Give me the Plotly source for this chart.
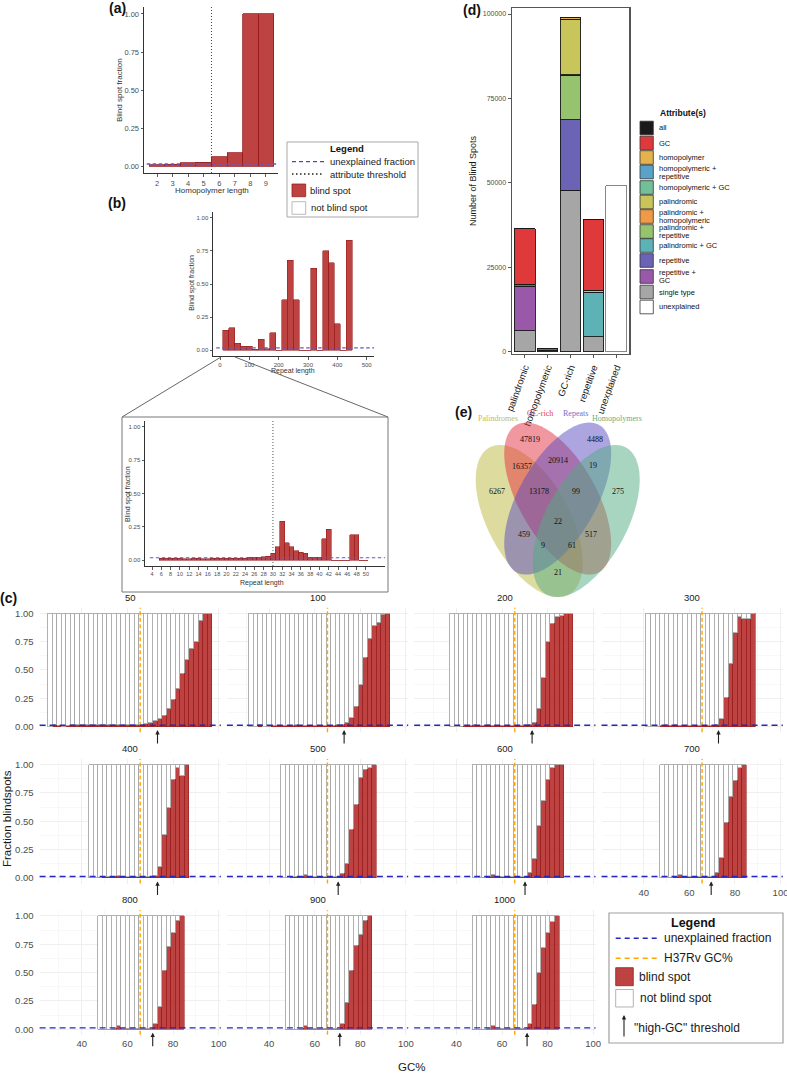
import math
import plotly.graph_objects as go

# ======================= DATA =======================
# (a) homopolymers
homopolymer_length = [2, 3, 4, 5, 6, 7, 8, 9]
homopolymer_fraction = [0.009, 0.010, 0.020, 0.025, 0.060, 0.088, 1.0, 1.0]
homopolymer_threshold = 5.5
unexplained_fraction = 0.013

# (b) repeats, full range (bins of 20)
repeat_length_bins = [20, 40, 60, 80, 100, 120, 140, 160, 180, 200, 220, 240, 260,
                      280, 300, 320, 340, 360, 380, 400, 420, 440]
repeat_fraction = [0.15, 0.17, 0.05, 0.03, 0.03, 0.005, 0.08, 0.01, 0.13, 0.0, 0.38, 0.68,
                   0.38, 0.0, 0.0, 0.62, 0.0, 0.75, 0.66, 0.20, 0.0, 0.83]
# (b) zoomed repeats
repeat_length_zoom = [6, 7, 8, 9, 10, 11, 12, 13, 14, 15, 16, 17, 18, 19, 20, 21, 22, 23, 24,
                      25, 26, 27, 28, 29, 30, 31, 32, 33, 34, 35, 36, 37, 38, 39, 40, 41, 42,
                      43, 44, 45, 46, 47, 48, 49, 50]
repeat_fraction_zoom = [0.015, 0.015, 0.012, 0.012, 0.012, 0.010, 0.010, 0.012, 0.012, 0.010,
                        0.010, 0.012, 0.015, 0.012, 0.012, 0.015, 0.015, 0.012, 0.015, 0.020,
                        0.020, 0.020, 0.025, 0.030, 0.050, 0.10, 0.29, 0.13, 0.10, 0.07, 0.06,
                        0.05, 0.02, 0.02, 0.02, 0.16, 0.23, 0.0, 0.0, 0.0, 0.0, 0.19, 0.19,
                        0.0, 0.0]
repeat_threshold = 30

# (c) GC% windows
windows = ["50", "100", "200", "300", "400", "500", "600", "700", "800", "900", "1000"]
gc_w50 = [26, 28, 30, 32, 34, 36, 38, 40, 42, 44, 46, 48, 50, 52, 54, 56, 58, 60, 62, 64,
          66, 68, 70, 72, 74, 76, 78, 80, 82, 84, 86, 88, 90, 92, 94, 96]
frac_w50 = [0.0, 0.02, 0.01, 0.005, 0.01, 0.015, 0.015, 0.015, 0.015, 0.015, 0.015, 0.015,
            0.015, 0.015, 0.015, 0.015, 0.015, 0.015, 0.015, 0.015, 0.02, 0.025, 0.035, 0.05,
            0.07, 0.10, 0.16, 0.24, 0.34, 0.47, 0.59, 0.69, 0.75, 0.94, 1.0, 1.0]
gc_w100 = [32, 34, 36, 38, 40, 42, 44, 46, 48, 50, 52, 54, 56, 58, 60, 62, 64, 66, 68, 70,
           72, 74, 76, 78, 80, 82, 84, 86, 88, 90, 92]
frac_w100 = [0.0, 0.0, 0.02, 0.0, 0.005, 0.01, 0.01, 0.01, 0.01, 0.01, 0.015, 0.01, 0.01,
             0.01, 0.01, 0.01, 0.01, 0.01, 0.01, 0.015, 0.02, 0.04, 0.08, 0.18, 0.37, 0.61,
             0.78, 0.89, 0.92, 0.99, 1.0]
gc_w200 = [38, 40, 42, 44, 46, 48, 50, 52, 54, 56, 58, 60, 62, 64, 66, 68, 70, 72, 74, 76,
           78, 80, 82, 84, 86, 88, 90]
frac_w200 = [0.0, 0.0, 0.005, 0.01, 0.01, 0.015, 0.01, 0.01, 0.015, 0.01, 0.01, 0.01, 0.01,
             0.01, 0.01, 0.01, 0.015, 0.02, 0.04, 0.16, 0.43, 0.75, 0.91, 0.97, 0.98, 1.0, 1.0]
gc_w300 = [42, 44, 46, 48, 50, 52, 54, 56, 58, 60, 62, 64, 66, 68, 70, 72, 74, 76, 78, 80,
           82, 84, 86, 88]
frac_w300 = [0.0, 0.0, 0.005, 0.01, 0.015, 0.01, 0.015, 0.01, 0.01, 0.01, 0.01, 0.01, 0.01,
             0.01, 0.01, 0.02, 0.07, 0.26, 0.56, 0.83, 0.97, 0.95, 0.95, 1.0]
gc_w400 = [44, 46, 48, 50, 52, 54, 56, 58, 60, 62, 64, 66, 68, 70, 72, 74, 76, 78, 80, 82,
           84, 86]
frac_w400 = [0.0, 0.0, 0.005, 0.01, 0.01, 0.015, 0.02, 0.01, 0.01, 0.01, 0.01, 0.01, 0.01,
             0.01, 0.02, 0.10, 0.38, 0.62, 0.87, 0.97, 0.90, 1.0]
gc_w500 = [46, 48, 50, 52, 54, 56, 58, 60, 62, 64, 66, 68, 70, 72, 74, 76, 78, 80, 82, 84, 86]
frac_w500 = [0.0, 0.0, 0.01, 0.01, 0.015, 0.03, 0.01, 0.01, 0.01, 0.01, 0.01, 0.01, 0.01,
             0.04, 0.13, 0.43, 0.65, 0.89, 0.96, 0.97, 1.0]
gc_w600 = [48, 50, 52, 54, 56, 58, 60, 62, 64, 66, 68, 70, 72, 74, 76, 78, 80, 82, 84, 86]
frac_w600 = [0.0, 0.0, 0.005, 0.01, 0.03, 0.01, 0.01, 0.01, 0.01, 0.01, 0.01, 0.01, 0.05,
             0.17, 0.46, 0.68, 0.87, 0.97, 1.0, 1.0]
gc_w700 = [48, 50, 52, 54, 56, 58, 60, 62, 64, 66, 68, 70, 72, 74, 76, 78, 80, 82, 84]
frac_w700 = [0.0, 0.0, 0.005, 0.01, 0.03, 0.01, 0.01, 0.01, 0.01, 0.01, 0.01, 0.01, 0.05,
             0.18, 0.49, 0.72, 0.86, 0.97, 1.0]
gc_w800 = [48, 50, 52, 54, 56, 58, 60, 62, 64, 66, 68, 70, 72, 74, 76, 78, 80, 82, 84]
frac_w800 = [0.0, 0.0, 0.0, 0.01, 0.03, 0.01, 0.01, 0.01, 0.01, 0.01, 0.01, 0.01, 0.05,
             0.20, 0.52, 0.73, 0.85, 0.96, 1.0]
gc_w900 = [48, 50, 52, 54, 56, 58, 60, 62, 64, 66, 68, 70, 72, 74, 76, 78, 80, 82, 84]
frac_w900 = [0.0, 0.0, 0.0, 0.01, 0.03, 0.01, 0.01, 0.01, 0.01, 0.01, 0.01, 0.01, 0.05,
             0.24, 0.52, 0.74, 0.84, 0.96, 1.0]
gc_w1000 = [48, 50, 52, 54, 56, 58, 60, 62, 64, 66, 68, 70, 72, 74, 76, 78, 80, 82, 84]
frac_w1000 = [0.0, 0.0, 0.0, 0.01, 0.03, 0.01, 0.01, 0.01, 0.01, 0.01, 0.01, 0.01, 0.05,
              0.22, 0.50, 0.72, 0.85, 0.95, 1.0]
h37rv_gc = 65.6
high_gc_threshold = [73.2, 72.9, 73.2, 72.8, 73.2, 70.3, 70.1, 69.6, 71.1, 71.0, 71.0]
gc_unexplained_fraction = 0.012

# (d) stacked counts per category
categories = ["palindromic", "homopolymeric", "GC-rich", "repetitive", "unexplained"]
attributes = ["all", "GC", "homopolymer", "homopolymeric + repetitive", "homopolymeric + GC",
              "palindromic", "palindromic + homopolymeric", "palindromic + repetitive",
              "palindromic + GC", "repetitive", "repetitive + GC", "single type", "unexplained"]
cnt_all = [22, 22, 22, 22, 0]
cnt_gc = [16357, 517, 0, 20914, 0]
cnt_homopolymer = [21, 0, 517, 19, 0]
cnt_homo_rep = [9, 0, 99, 0, 0]
cnt_homo_gc = [61, 0, 0, 99, 0]
cnt_palindromic = [0, 21, 16357, 459, 0]
cnt_pal_homo = [0, 0, 61, 9, 0]
cnt_pal_rep = [0, 9, 13178, 0, 0]
cnt_pal_gc = [0, 61, 0, 13178, 0]
cnt_repetitive = [459, 19, 20914, 0, 0]
cnt_rep_gc = [13178, 99, 0, 0, 0]
cnt_single = [6267, 275, 47819, 4488, 0]
cnt_unexplained = [0, 0, 0, 0, 49130]

# (e) Venn region counts
venn_sets = ["Palindromes", "GC-rich", "Repeats", "Homopolymers"]
venn_regions = ["P", "G", "R", "H", "PG", "GR", "RH", "PGR", "GRH", "PGRH",
                "PR", "PRH", "PGH", "GH", "PH"]
venn_counts = [6267, 47819, 4488, 275, 16357, 20914, 19, 13178, 99, 22, 459, 9, 61, 517, 21]

# ======================= STYLE / HELPERS =======================
W, H = 787, 1074
FONT = "Liberation Sans, Arial, Helvetica, sans-serif"
SERIF = "Liberation Serif, Times New Roman, serif"
RED_FILL = "rgba(178,34,34,0.85)"
RED_LINE = "rgba(150,24,24,0.95)"
GRAY_TXT = "#4D4D4D"


def fx(p):
    return p / W


def fy(p):
    return 1 - p / H


fig = go.Figure()
layout = {}
shapes = []
annos = []


def names(n):
    s = "" if n == 1 else str(n)
    return "xaxis" + s, "yaxis" + s, "x" + s, "y" + s


def set_axes(n, xpx, ypx, xr, yr, xkw, ykw):
    xa, ya, xs, ys = names(n)
    layout[xa] = dict(domain=[fx(xpx[0]), fx(xpx[1])], range=xr, anchor=ys, automargin=False, **xkw)
    layout[ya] = dict(domain=[fy(ypx[1]), fy(ypx[0])], range=yr, anchor=xs, automargin=False, **ykw)
    return xs, ys


def text(x, y, s, size, color="#1A1A1A", bold=False, xanchor="center", angle=0, family=FONT):
    if bold:
        s = "<b>" + s + "</b>"
    annos.append(dict(x=fx(x), y=fy(y), xref="paper", yref="paper", text=s, showarrow=False,
                      font=dict(size=size, color=color, family=family), xanchor=xanchor,
                      yanchor="middle", textangle=angle, borderpad=0, align="left"))


def line_px(x0, y0, x1, y1, color, width=1.0, dash="solid"):
    shapes.append(dict(type="line", xref="paper", yref="paper", x0=fx(x0), y0=fy(y0),
                       x1=fx(x1), y1=fy(y1), line=dict(color=color, width=width, dash=dash)))


def rect_px(x0, y0, x1, y1, fill="rgba(0,0,0,0)", line="#999", width=1.0):
    shapes.append(dict(type="rect", xref="paper", yref="paper", x0=fx(x0), y0=fy(y1),
                       x1=fx(x1), y1=fy(y0), fillcolor=fill, line=dict(color=line, width=width)))


def classic(vals, labels, size, color=GRAY_TXT):
    return dict(showline=True, linecolor="#333", linewidth=1, ticks="outside", ticklen=2.5,
                tickwidth=0.8, tickcolor="#333", tickvals=vals, ticktext=labels,
                tickfont=dict(size=size, color=color, family=FONT), showgrid=False,
                zeroline=False, fixedrange=True)


FR_VALS = [0, 0.25, 0.5, 0.75, 1.0]
FR_TXT = ["0.00", "0.25", "0.50", "0.75", "1.00"]
BLUE_AB = "#5B5BD0"
BLUE_C = "#2626C0"

# ======================= PANEL (a) =======================
xs, ys = set_axes(1, (144, 278), (7, 173), [1.16, 9.78], [-0.046, 1.046],
                  classic(homopolymer_length, [str(v) for v in homopolymer_length], 7.5),
                  classic(FR_VALS, FR_TXT, 7.5))
fig.add_trace(go.Bar(x=homopolymer_length, y=homopolymer_fraction, width=1,
                     marker=dict(color=RED_FILL, line=dict(color=RED_LINE, width=0.8)),
                     xaxis=xs, yaxis=ys))
shapes.append(dict(type="line", xref=xs, yref=ys + " domain", x0=homopolymer_threshold,
                   x1=homopolymer_threshold, y0=0, y1=1,
                   line=dict(color="#444", width=1, dash="1px,2px")))
shapes.append(dict(type="line", xref=xs + " domain", yref=ys, x0=0.02, x1=1, y0=unexplained_fraction,
                   y1=unexplained_fraction, line=dict(color=BLUE_AB, width=1.4, dash="3.5px,2.5px")))
text(120, 90, "Blind spot fraction", 8, color="#333", angle=-90)
text(212, 191, "Homopolymer length", 8, color="#333")
text(117, 8, "(a)", 14, color="#111", bold=True)

# legend (a)
rect_px(287, 142, 418, 217, line="#A8A8A8", width=1)
text(347, 148.5, "Legend", 9.5, color="#111", bold=True)
line_px(292, 161.7, 324, 161.7, "#4848C8", 1.2, "4px,3px")
text(329, 161.7, "unexplained fraction", 9.5, xanchor="left")
line_px(292, 174, 324, 174, "#222", 1.5, "1.5px,2.5px")
text(329, 174, "attribute threshold", 9.5, xanchor="left")
rect_px(292, 184, 305.7, 196.7, fill=RED_FILL, line=RED_LINE, width=0.8)
text(309.3, 190.7, "blind spot", 9.5, xanchor="left")
rect_px(292, 201.7, 305.7, 214.3, fill="white", line="#AAAAAA", width=0.8)
text(310, 207.3, "not blind spot", 9.5, xanchor="left")

# ======================= PANEL (b) main =======================
xs, ys = set_axes(2, (213, 374), (212, 356), [-24, 525], [-0.045, 1.045],
                  classic([0, 100, 200, 300, 400, 500], ["0", "100", "200", "300", "400", "500"], 6),
                  classic(FR_VALS, FR_TXT, 6))
fig.add_trace(go.Bar(x=repeat_length_bins, y=repeat_fraction, width=20,
                     marker=dict(color=RED_FILL, line=dict(color=RED_LINE, width=0.6)),
                     xaxis=xs, yaxis=ys))
shapes.append(dict(type="line", xref=xs + " domain", yref=ys, x0=0.02, x1=1, y0=unexplained_fraction + 0.004,
                   y1=unexplained_fraction + 0.004, line=dict(color=BLUE_AB, width=1.2, dash="3.5px,2.5px")))
text(191.7, 283, "Blind spot fraction", 7, color="#333", angle=-90)
text(293, 371, "Repeat length", 7, color="#333")
text(117, 203, "(b)", 14, color="#111", bold=True)

# zoom connector lines
line_px(221, 357, 122, 417, "#666", 1)
line_px(235, 357, 388, 417, "#666", 1)

# ======================= PANEL (b) inset =======================
rect_px(122, 417, 388, 592, line="#777", width=1)
xs, ys = set_axes(3, (145, 385), (421, 566), [2.49, 54.1], [-0.045, 1.045],
                  classic([4, 6, 8, 10, 12, 14, 16, 18, 20, 22, 24, 26, 28, 30, 32, 34, 36, 38, 40,
                           42, 44, 46, 48, 50],
                          ["4", "6", "8", "10", "12", "14", "16", "18", "20", "22", "24", "26", "28",
                           "30", "32", "34", "36", "38", "40", "42", "44", "46", "48", "50"], 5.5),
                  classic(FR_VALS, FR_TXT, 6))
fig.add_trace(go.Bar(x=repeat_length_zoom, y=repeat_fraction_zoom, width=1,
                     marker=dict(color=RED_FILL, line=dict(color=RED_LINE, width=0.6)),
                     xaxis=xs, yaxis=ys))
shapes.append(dict(type="line", xref=xs, yref=ys + " domain", x0=repeat_threshold, x1=repeat_threshold,
                   y0=0, y1=1, line=dict(color="#555", width=1, dash="1px,2px")))
shapes.append(dict(type="line", xref=xs + " domain", yref=ys, x0=0.02, x1=1, y0=unexplained_fraction + 0.004,
                   y1=unexplained_fraction + 0.004, line=dict(color=BLUE_AB, width=1.2, dash="3.5px,2.5px")))
text(128, 494, "Blind spot fraction", 7, color="#333", angle=-90)
text(262, 583, "Repeat length", 7, color="#333")

# ======================= PANEL (d) =======================
xs, ys = set_axes(4, (511.7, 629.3), (8.3, 354), [-0.57, 4.57], [-680, 101690],
                  dict(showline=True, mirror=True, linecolor="#555", linewidth=1.2, ticks="outside",
                       ticklen=3, tickcolor="#555", tickvals=[0, 1, 2, 3, 4], ticktext=categories,
                       tickangle=-70, tickfont=dict(size=9.5, color="#1A1A1A", family=FONT),
                       showgrid=False, zeroline=False),
                  dict(showline=True, mirror=True, linecolor="#555", linewidth=1.2, ticks="outside",
                       ticklen=3, tickcolor="#555", tickvals=[0, 25000, 50000, 75000, 100000],
                       ticktext=["0", "25000", "50000", "75000", "100000"],
                       tickfont=dict(size=7, color=GRAY_TXT, family=FONT), showgrid=False,
                       zeroline=False))
attr_colors = {
    "all": "#1A1A1A", "GC": "#E0393B", "homopolymer": "#E6B24C",
    "homopolymeric + repetitive": "#5AA2C8", "homopolymeric + GC": "#72C09A",
    "palindromic": "#C8C55A", "palindromic + homopolymeric": "#EE9A48",
    "palindromic + repetitive": "#96C46E", "palindromic + GC": "#5DB2B6",
    "repetitive": "#6A63B6", "repetitive + GC": "#9A59A8", "single type": "#A6A6A6",
    "unexplained": "#FFFFFF"}
attr_counts = {
    "all": cnt_all, "GC": cnt_gc, "homopolymer": cnt_homopolymer,
    "homopolymeric + repetitive": cnt_homo_rep, "homopolymeric + GC": cnt_homo_gc,
    "palindromic": cnt_palindromic, "palindromic + homopolymeric": cnt_pal_homo,
    "palindromic + repetitive": cnt_pal_rep, "palindromic + GC": cnt_pal_gc,
    "repetitive": cnt_repetitive, "repetitive + GC": cnt_rep_gc, "single type": cnt_single,
    "unexplained": cnt_unexplained}
for att in reversed(attributes):
    vals = [v if v > 0 else None for v in attr_counts[att]]
    lc = "#7A7A7A" if att == "unexplained" else "#1A1A1A"
    fig.add_trace(go.Bar(x=[0, 1, 2, 3, 4], y=vals, width=0.9, name=att,
                         marker=dict(color=attr_colors[att], line=dict(color=lc, width=0.9)),
                         xaxis=xs, yaxis=ys))
text(473, 181, "Number of Blind Spots", 9, angle=-90)
text(472, 10, "(d)", 14, color="#111", bold=True)

# legend (d)
text(683, 112.7, "Attribute(s)", 8.5, color="#111", bold=True)
key_y = [128, 143, 157.5, 172, 187.5, 202, 216.5, 231.5, 245.5, 260.5, 276.5, 292, 307]
key_lines = [["all"], ["GC"], ["homopolymer"], ["homopolymeric +", "repetitive"],
             ["homopolymeric + GC"], ["palindromic"], ["palindromic +", "homopolymeric"],
             ["palindromic +", "repetitive"], ["palindromic + GC"], ["repetitive"],
             ["repetitive +", "GC"], ["single type"], ["unexplained"]]
for att, yk, tl in zip(attributes, key_y, key_lines):
    rect_px(640, yk - 6.8, 653.3, yk + 6.8, fill=attr_colors[att], line="#333", width=0.8)
    if len(tl) == 1:
        text(658.3, yk, tl[0], 7.5, color="#111", xanchor="left")
    else:
        text(658.3, yk - 4, tl[0], 7.5, color="#111", xanchor="left")
        text(658.3, yk + 4, tl[1], 7.5, color="#111", xanchor="left")

# ======================= PANEL (e) Venn =======================
VX0, VY0, VSX, VSY = 462.7, 647.9, 190.0, 270.0


def ellipse_path(cx, cy, a, b, rot):
    th = math.radians(rot)
    pts = []
    for i in range(121):
        t = 2 * math.pi * i / 120
        ux = cx + a * math.cos(t) * math.cos(th) - b * math.sin(t) * math.sin(th)
        uy = cy + a * math.cos(t) * math.sin(th) + b * math.sin(t) * math.cos(th)
        pts.append((fx(VX0 + VSX * ux), fy(VY0 - VSY * uy)))
    return "M " + " L ".join("%.5f,%.5f" % p for p in pts) + " Z"


venn_shapes = [((0.35, 0.47, 0.35, 0.19, 135), "rgba(189,184,61,0.50)"),
               ((0.50, 0.553, 0.355, 0.18, 135), "rgba(227,48,63,0.50)"),
               ((0.50, 0.553, 0.355, 0.18, 45), "rgba(90,76,192,0.50)"),
               ((0.65, 0.47, 0.35, 0.19, 45), "rgba(81,171,129,0.50)")]
for geo, col in venn_shapes:
    shapes.append(dict(type="path", xref="paper", yref="paper", path=ellipse_path(*geo),
                       fillcolor=col, line=dict(width=0)))
venn_label_pos = [(497.7, 418.7, "#C2BA55"), (540, 413.3, "#E0404E"), (575, 413.3, "#7A6CC8"),
                  (617.3, 418.7, "#5FAE8A")]
for nm, (px, py, col) in zip(venn_sets, venn_label_pos):
    text(px, py, nm, 8, color=col, family=SERIF)
venn_num_pos = [(497.3, 491), (530, 439.3), (595, 439.3), (617.7, 491), (521.7, 466.7),
                (557.7, 460), (593.3, 466), (539, 491), (576, 491), (557.7, 521), (524, 534),
                (543.3, 545), (571.7, 545), (591, 534), (557.7, 572.3)]
for cnt, (px, py) in zip(venn_counts, venn_num_pos):
    text(px, py, str(cnt), 8, color="#111", family=SERIF)
text(463, 412, "(e)", 14, color="#111", bold=True)

# ======================= PANEL (c) =======================
gc_bins = [gc_w50, gc_w100, gc_w200, gc_w300, gc_w400, gc_w500, gc_w600, gc_w700, gc_w800,
           gc_w900, gc_w1000]
gc_fracs = [frac_w50, frac_w100, frac_w200, frac_w300, frac_w400, frac_w500, frac_w600,
            frac_w700, frac_w800, frac_w900, frac_w1000]
COL_X0, COL_DX, COL_W = 39.6, 187.3, 181.3
ROW_Y1, ROW_DY, UNIT = 613.3, 151.3, 113.3
for k, win in enumerate(windows):
    r, c = divmod(k, 4)
    n = 5 + k
    x0 = COL_X0 + COL_DX * c
    y1 = ROW_Y1 + ROW_DY * r
    show_x = (r == 2) or (r == 1 and c == 3)
    show_y = (c == 0)
    xkw = dict(showline=False, zeroline=False, ticks="", showgrid=True, gridcolor="#EBEBEB",
               gridwidth=0.8, tickvals=[40, 60, 80, 100], ticktext=["40", "60", "80", "100"],
               showticklabels=show_x, tickfont=dict(size=9.5, color=GRAY_TXT, family=FONT),
               ticklabelstandoff=2, ticklabeloverflow="allow",
               minor=dict(tickvals=[30, 50, 70, 90], showgrid=True, gridcolor="#F4F4F4",
                          gridwidth=0.6))
    ykw = dict(showline=False, zeroline=False, ticks="", showgrid=True, gridcolor="#EBEBEB",
               gridwidth=0.8, tickvals=FR_VALS, ticktext=FR_TXT, showticklabels=show_y,
               tickfont=dict(size=9.5, color=GRAY_TXT, family=FONT), ticklabelstandoff=5,
               minor=dict(tickvals=[0.125, 0.375, 0.625, 0.875], showgrid=True,
                          gridcolor="#F4F4F4", gridwidth=0.6))
    xs, ys = set_axes(n, (x0, x0 + COL_W), (y1 - 0.05 * UNIT, y1 + 1.05 * UNIT), [21.5, 101],
                      [-0.05, 1.05], xkw, ykw)
    fr = gc_fracs[k]
    fig.add_trace(go.Bar(x=gc_bins[k], y=fr, width=2,
                         marker=dict(color=RED_FILL, line=dict(color=RED_LINE, width=0.6)),
                         xaxis=xs, yaxis=ys))
    fig.add_trace(go.Bar(x=gc_bins[k], y=[1 - v for v in fr], width=2,
                         marker=dict(color="white", line=dict(color="#A8A8A8", width=0.9)),
                         xaxis=xs, yaxis=ys))
    shapes.append(dict(type="line", xref=xs, yref=ys + " domain", x0=h37rv_gc, x1=h37rv_gc, y0=0,
                       y1=1, line=dict(color="#FFA500", width=1.4, dash="4px,2.5px")))
    shapes.append(dict(type="line", xref=xs + " domain", yref=ys, x0=0, x1=1,
                       y0=gc_unexplained_fraction, y1=gc_unexplained_fraction,
                       line=dict(color=BLUE_C, width=1.4, dash="6px,4px")))
    annos.append(dict(x=high_gc_threshold[k], y=fy(y1 + UNIT + 3.5), xref=xs, yref="paper",
                      ax=0, ay=15, text="", showarrow=True, arrowhead=2, arrowsize=0.8,
                      arrowwidth=1.1, arrowcolor="#222"))
    text(x0 + COL_W / 2, 597 + ROW_DY * r, win, 9.5, color="#1A1A1A")

text(8, 598, "(c)", 14, color="#111", bold=True)
text(7, 819, "Fraction blindspots", 11.5, angle=-90)
text(411.7, 1066.5, "GC%", 11.5)

# legend (c)
rect_px(609, 913, 783, 1043, line="#A0A0A0", width=1.2)
text(693, 922.7, "Legend", 12.5, color="#111", bold=True)
line_px(615.7, 938.3, 656.7, 938.3, BLUE_C, 1.4, "5px,4px")
text(663.3, 938.3, "unexplained fraction", 12, xanchor="left")
line_px(615.7, 958.3, 656.7, 958.3, "#FFA500", 1.4, "5px,4px")
text(663.3, 958.3, "H37Rv GC%", 12, xanchor="left")
rect_px(615.7, 967.7, 633.3, 985.7, fill=RED_FILL, line=RED_LINE, width=0.8)
text(638.3, 977.3, "blind spot", 12, xanchor="left")
rect_px(615.7, 989.5, 633.3, 1007, fill="white", line="#AAAAAA", width=0.9)
text(639.3, 998.3, "not blind spot", 12, xanchor="left")
annos.append(dict(x=fx(624), y=fy(1015), xref="paper", yref="paper", ax=0, ay=23, text="",
                  showarrow=True, arrowhead=2, arrowsize=0.8, arrowwidth=1.1, arrowcolor="#222"))
text(633.3, 1027.7, "\"high-GC\" threshold", 12, xanchor="left")

layout.update(width=W, height=H, margin=dict(l=0, r=0, t=0, b=0, autoexpand=False), autosize=False,
              paper_bgcolor="white", plot_bgcolor="rgba(0,0,0,0)", showlegend=False,
              barmode="stack", bargap=0, font=dict(family=FONT), shapes=shapes,
              annotations=annos, hovermode=False)
fig.update_layout(**layout)
fig.write_html("out.html", config={"displayModeBar": False, "staticPlot": True},
               post_script="document.body.style.margin='0px';document.body.style.padding='0px';"
                           "document.body.style.overflow='hidden';")
